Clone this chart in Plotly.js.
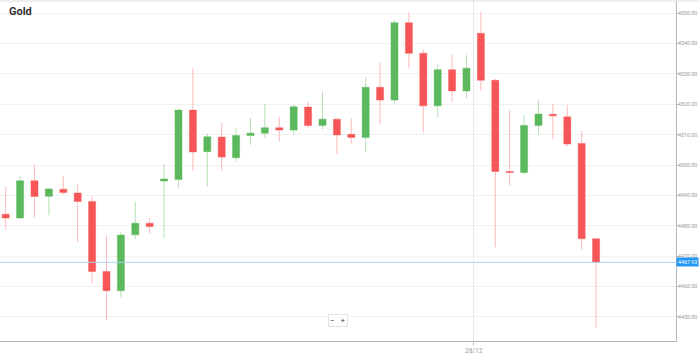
<!DOCTYPE html>
<html>
<head>
<meta charset="utf-8">
<script src="https://cdn.plot.ly/plotly-3.0.1.min.js"></script>
<style>html,body{margin:0;padding:0;background:#fff;}#chart{width:699px;height:356px;}</style>
</head>
<body>
<div id="chart"></div>
<script>
// OHLC values (one candle per period)
const openP  = [4483.8,4482.5,4494.8,4489.7,4492.0,4490.8,4488.0,4464.9,4458.6,4477.0,4480.8,4494.7,4495.2,4518.1,4504.4,4509.2,4502.4,4509.7,4510.5,4512.3,4511.5,4519.1,4513.0,4515.1,4510.1,4509.1,4525.6,4521.4,4546.9,4536.8,4519.5,4531.4,4524.4,4543.4,4527.9,4497.9,4497.5,4513.0,4516.7,4515.9,4507.1,4475.7];
const highP  = [4493.0,4496.3,4500.1,4492.3,4496.3,4493.5,4489.6,4476.8,4477.9,4487.9,4482.5,4500.3,4518.5,4531.9,4510.4,4514.0,4512.2,4515.5,4520.0,4515.9,4519.8,4520.9,4524.2,4515.4,4515.4,4528.9,4533.8,4547.8,4550.3,4538.1,4533.2,4536.3,4536.3,4550.5,4528.5,4518.1,4516.5,4521.4,4520.1,4519.8,4511.2,4475.8];
const lowP   = [4478.6,4482.3,4482.7,4483.5,4490.2,4474.5,4461.0,4448.9,4456.4,4475.6,4477.5,4475.9,4492.6,4498.1,4492.9,4498.1,4501.1,4506.6,4508.8,4507.7,4510.1,4512.3,4511.8,4503.5,4507.1,4504.4,4513.4,4520.3,4531.9,4510.8,4515.7,4520.7,4522.0,4524.5,4472.9,4493.3,4497.0,4510.0,4508.5,4506.0,4472.0,4446.2];
const closeP = [4482.5,4494.8,4489.6,4492.1,4490.9,4488.0,4464.9,4458.6,4476.9,4480.8,4479.7,4495.4,4518.1,4504.3,4509.3,4502.6,4509.7,4510.5,4512.3,4511.5,4519.2,4513.0,4515.1,4509.9,4509.1,4525.6,4521.4,4546.9,4536.8,4519.5,4531.4,4524.4,4531.9,4527.9,4497.9,4497.5,4513.0,4516.8,4516.2,4506.9,4475.7,4467.93];
const dateTickPos = [32.5];
const dateTickText = ['28/12'];
const titleText = 'Gold';
const lastPrice = 4467.93;

const xIdx = openP.map((_, i) => i);

const trace = {
  type: 'candlestick',
  x: xIdx, open: openP, high: highP, low: lowP, close: closeP,
  increasing: {line: {color: 'rgba(92,184,92,0.45)', width: 1}, fillcolor: '#5cb85c'},
  decreasing: {line: {color: 'rgba(246,84,84,0.4)', width: 1}, fillcolor: '#f85656'},
  whiskerwidth: 0,
  hoverinfo: 'skip'
};

const layout = {
  width: 699, height: 356,
  margin: {l: 0, r: 23, t: 1, b: 15},
  paper_bgcolor: '#fff', plot_bgcolor: '#fff',
  showlegend: false,
  font: {family: 'Roboto, Arial, sans-serif'},
  title: {text: '<b>' + titleText + '</b>', x: 9/699, xanchor: 'left', y: 1 - 11/356, yanchor: 'middle',
          font: {size: 11, color: '#333'}},
  xaxis: {
    type: 'linear', range: [-0.396, 46.55], rangeslider: {visible: false},
    tickmode: 'array', tickvals: dateTickPos, ticktext: dateTickText,
    showgrid: true, gridcolor: '#e9e9e9', zeroline: false,
    showline: true, linecolor: '#b5b5b5', linewidth: 1,
    ticks: 'outside', ticklen: 3, tickcolor: '#bbb',
    tickfont: {size: 6.5, color: '#999'}, fixedrange: true
  },
  yaxis: {
    side: 'right', range: [4442.0, 4554.05],
    tick0: 4450, dtick: 10, tickformat: '.2f',
    showgrid: true, gridcolor: '#f1f1f1', zeroline: false,
    showline: true, linecolor: '#b5b5b5', linewidth: 1,
    ticks: 'outside', ticklen: 2, tickcolor: '#bbb', ticklabelstandoff: -2,
    tickfont: {size: 5.3, color: '#999', family: 'Roboto, Arial, sans-serif'}, fixedrange: true
  },
  shapes: [
    {type: 'line', xref: 'paper', yref: 'paper', x0: 0, x1: 1.034, y0: 1, y1: 1,
     line: {color: '#dcdcdc', width: 1}},
    {type: 'line', xref: 'paper', yref: 'y', x0: 0, x1: 1, y0: lastPrice, y1: lastPrice,
     line: {color: '#a9d5f5', width: 1}}
  ],
  annotations: [
    {xref: 'paper', yref: 'y', x: 1, y: lastPrice, xanchor: 'left', yanchor: 'middle', xshift: 0,
     text: lastPrice.toFixed(2), showarrow: false, bgcolor: '#2196f3', borderpad: 1,
     font: {size: 5.3, color: '#fff'}},
    {xref: 'paper', yref: 'paper', x: 337.5/676, y: (341 - 320.5)/340, xanchor: 'center', yanchor: 'middle',
     text: '−&nbsp;&nbsp;&nbsp;+', showarrow: false, bgcolor: '#fff', bordercolor: '#e3e3e3', borderwidth: 1, borderpad: 1,
     font: {size: 8, color: '#444'}}
  ]
};

Plotly.newPlot('chart', [trace], layout, {staticPlot: true, displayModeBar: false});
</script>
</body>
</html>
